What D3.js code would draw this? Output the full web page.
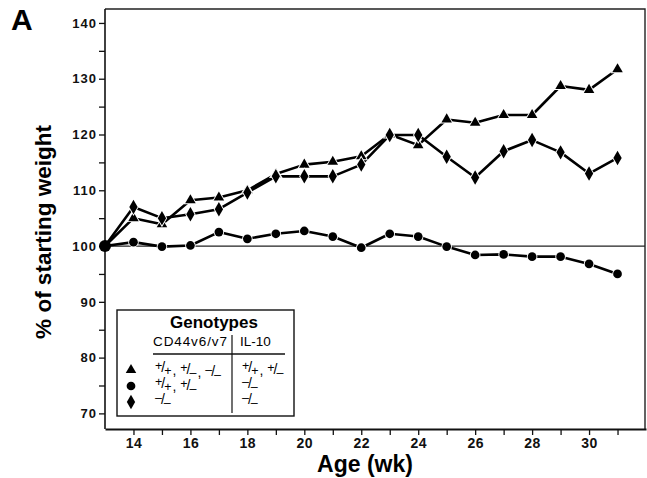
<!DOCTYPE html>
<html>
<head>
<meta charset="utf-8">
<script src="https://cdn.jsdelivr.net/npm/d3@7"></script>
<style>
  body { margin: 0; background: #fff; }
  svg { font-family: "Liberation Sans", Arial, sans-serif; }
  .axis text { font-weight: bold; fill: #111; }
  .axis path, .axis line { stroke: #111; }
</style>
</head>
<body>
<div id="chart"></div>
<script>
// weeks of age, one point per week
const weeks = [13, 14, 15, 16, 17, 18, 19, 20, 21, 22, 23, 24, 25, 26, 27, 28, 29, 30, 31];
// % of starting weight
const tri = [100, 105.0, 103.9, 108.2, 108.7, 110.0, 112.9, 114.6, 115.1, 116.1, 120.0, 118.1, 122.7, 122.1, 123.5, 123.5, 128.7, 128.0, 131.7];
const circ = [100, 100.7, 99.9, 100.1, 102.5, 101.3, 102.2, 102.7, 101.7, 99.7, 102.2, 101.7, 99.9, 98.4, 98.5, 98.1, 98.1, 96.8, 95.0];
const diam = [100, 107.0, 105.0, 105.7, 106.6, 109.6, 112.5, 112.5, 112.5, 114.6, 119.9, 119.9, 116.0, 112.3, 117.0, 119.0, 116.8, 113.0, 115.8];

const yTicks = [70, 75, 80, 85, 90, 95, 100, 105, 110, 115, 120, 125, 130, 135, 140];
const yLabels = [70, 80, 90, 100, 110, 120, 130, 140];
const xTicks = [14, 15, 16, 17, 18, 19, 20, 21, 22, 23, 24, 25, 26, 27, 28, 29, 30, 31];
const xLabels = [14, 16, 18, 20, 22, 24, 26, 28, 30];

const width = 647;
const height = 478;
const plotLeft = 105, plotRight = 646, plotTop = 9, plotBottom = 429;

var svg = d3.select('#chart').append('svg')
  .attr('width', width)
  .attr('height', height);

var x = d3.scaleLinear().domain([13, 32]).range([plotLeft, plotRight]);
var y = d3.scaleLinear().domain([67.2, 142.5]).range([plotBottom, plotTop]);

// frame (top and right)
svg.append('path')
  .attr('d', 'M' + plotLeft + ',' + plotTop + 'H' + (plotRight - 1) + 'V' + plotBottom)
  .attr('fill', 'none')
  .attr('stroke', '#222')
  .attr('stroke-width', 1.4);

// axes
var xAxis = svg.append('g').attr('class', 'axis')
  .attr('transform', 'translate(0,' + plotBottom + ')')
  .call(d3.axisBottom(x).tickValues(xTicks).tickSize(6).tickSizeOuter(0)
    .tickFormat(d => xLabels.includes(d) ? d : ''));
xAxis.select('.domain').attr('stroke-width', 2);
xAxis.selectAll('.tick line').attr('stroke-width', 1.3);
xAxis.selectAll('text')
  .attr('y', 19).attr('dy', 0)
  .style('font-size', '14px')
  .style('letter-spacing', '0.5px');

var yAxis = svg.append('g').attr('class', 'axis')
  .attr('transform', 'translate(' + plotLeft + ',0)')
  .call(d3.axisLeft(y).tickValues(yTicks).tickSize(6).tickSizeOuter(0)
    .tickFormat(d => yLabels.includes(d) ? d : ''));
yAxis.select('.domain').attr('stroke-width', 1.6)
  .attr('d', 'M0,' + plotTop + 'V' + plotBottom);
yAxis.selectAll('.tick line').attr('stroke-width', 1.3);
yAxis.selectAll('text')
  .attr('x', -8)
  .style('font-size', '13px')
  .style('letter-spacing', '1px');

// 100% reference line
svg.append('line')
  .attr('x1', plotLeft).attr('x2', plotRight - 1)
  .attr('y1', y(100)).attr('y2', y(100))
  .attr('stroke', '#222')
  .attr('stroke-width', 1.2);

// series
var series = [
  {values: tri, symbol: d3.symbolTriangle, size: 48},
  {values: circ, symbol: d3.symbolCircle, size: 60},
  {values: diam, symbol: d3.symbolDiamond, size: 60}
];

var line = d3.line()
  .x((d, i) => x(weeks[i]))
  .y(d => y(d));

series.forEach(function(s) {
  svg.append('path')
    .datum(s.values)
    .attr('d', line)
    .attr('fill', 'none')
    .attr('stroke', '#000')
    .attr('stroke-width', 2.6)
    .attr('stroke-linejoin', 'round');
});

series.forEach(function(s) {
  svg.append('g').selectAll('path')
    .data(s.values.slice(1))
    .join('path')
    .attr('transform', (d, i) => 'translate(' + x(weeks[i + 1]) + ',' + y(d) + ')')
    .attr('d', d3.symbol().type(s.symbol).size(s.size))
    .attr('fill', '#000')
    .attr('stroke', '#fff')
    .attr('stroke-width', 1.8)
    .attr('paint-order', 'stroke');
});

// shared starting point
svg.append('circle')
  .attr('cx', x(weeks[0])).attr('cy', y(tri[0]))
  .attr('r', 6)
  .attr('fill', '#000');

// axis titles
svg.append('text')
  .attr('transform', 'translate(51,' + 232 + ') rotate(-90)')
  .attr('text-anchor', 'middle')
  .style('font-size', '22.5px')
  .style('font-weight', 'bold')
  .text('% of starting weight');

svg.append('text')
  .attr('x', 365).attr('y', 472)
  .attr('text-anchor', 'middle')
  .style('font-size', '23px')
  .style('font-weight', 'bold')
  .text('Age (wk)');

svg.append('text')
  .attr('x', 11).attr('y', 30)
  .style('font-size', '30px')
  .style('font-weight', 'bold')
  .text('A');

// legend
var legend = svg.append('g');
legend.append('rect')
  .attr('x', 117).attr('y', 310)
  .attr('width', 177).attr('height', 106)
  .attr('fill', '#fff')
  .attr('stroke', '#111')
  .attr('stroke-width', 1.4);

legend.append('text')
  .attr('x', 214).attr('y', 328)
  .attr('text-anchor', 'middle')
  .style('font-size', '17px')
  .style('font-weight', 'bold')
  .text('Genotypes');

legend.append('text')
  .attr('x', 153).attr('y', 346)
  .style('font-size', '13.5px')
  .style('letter-spacing', '0.9px')
  .text('CD44v6/v7');

legend.append('text')
  .attr('x', 240).attr('y', 346)
  .style('font-size', '13.5px')
  .text('IL-10');

legend.append('line')
  .attr('x1', 153).attr('x2', 285)
  .attr('y1', 354).attr('y2', 354)
  .attr('stroke', '#111').attr('stroke-width', 1.3);

legend.append('line')
  .attr('x1', 232).attr('x2', 232)
  .attr('y1', 335).attr('y2', 413)
  .attr('stroke', '#111').attr('stroke-width', 1.2);

// genotype pairs: [upper, lower] characters
const cd44Rows = [[['+', '+'], ['+', '\u2013'], ['\u2013', '\u2013']], [['+', '+'], ['+', '\u2013']], [['\u2013', '\u2013']]];
const il10Rows = [[['+', '+'], ['+', '\u2013']], [['\u2013', '\u2013']], [['\u2013', '\u2013']]];

function genotypeText(g, xPos, yPos, pairs) {
  var t = g.append('text')
    .attr('x', xPos).attr('y', yPos)
    .style('font-size', '14px');
  pairs.forEach(function(p, i) {
    if (i > 0) t.append('tspan').attr('dx', 1).text(', ');
    t.append('tspan').attr('dy', -3).style('font-size', '12.5px').text(p[0]);
    t.append('tspan').attr('dx', -1).attr('dy', 2).text('/');
    t.append('tspan').attr('dx', -1).attr('dy', 3).style('font-size', '12.5px').text(p[1]);
    t.append('tspan').attr('dy', -2).text('');
  });
}

series.forEach(function(s, i) {
  var rowY = 370 + i * 16;
  legend.append('path')
    .attr('transform', 'translate(131,' + rowY + ')')
    .attr('d', d3.symbol().type(s.symbol).size(s.size))
    .attr('fill', '#000');
  genotypeText(legend, 155, rowY + 3, cd44Rows[i]);
  genotypeText(legend, 242, rowY + 3, il10Rows[i]);
});
</script>
</body>
</html>
